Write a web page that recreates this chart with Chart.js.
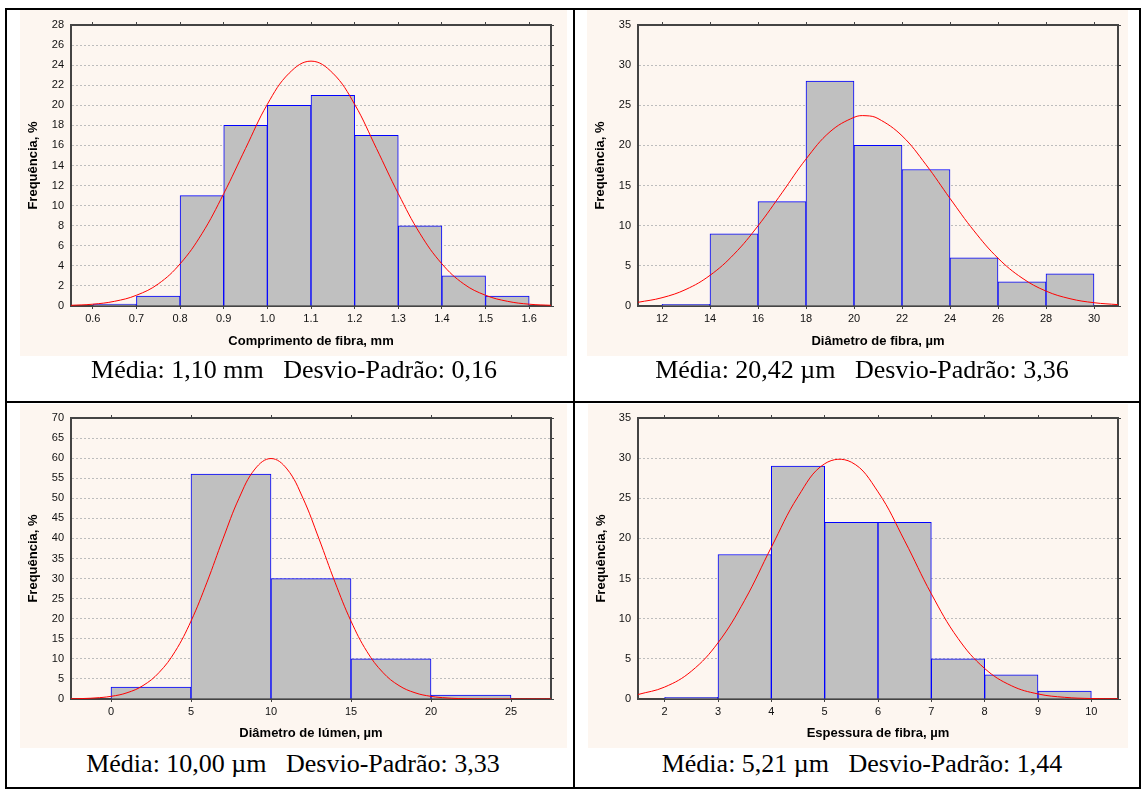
<!DOCTYPE html>
<html>
<head>
<meta charset="utf-8">
<script src="https://cdn.jsdelivr.net/npm/chart.js@4.4.0/dist/chart.umd.min.js"></script>
<style>
  body { margin: 0; background: #fff; width: 1141px; height: 790px; position: relative; overflow: hidden; }
  .frame { position: absolute; left: 5px; top: 8px; width: 1136px; height: 781px; box-sizing: border-box; border: 2px solid #000; }
  .vline { position: absolute; left: 573px; top: 8px; width: 2px; height: 781px; background: #000; }
  .hline { position: absolute; left: 5px; top: 401px; width: 1136px; height: 2px; background: #000; }
  .panel { position: absolute; background: #fdf6f0; }
  .panel canvas { display: block; }
  .caption { position: absolute; width: 600px; text-align: center; font-family: 'Liberation Serif', 'Times New Roman', serif;
             font-size: 26px; line-height: 1; color: #000; white-space: pre; }
</style>
</head>
<body>
<div class="frame"></div>
<div class="vline"></div>
<div class="hline"></div>

<div class="panel" style="left:20px;top:10px;width:547px;height:346px"><canvas id="chartCompr" width="547" height="346"></canvas></div>
<div class="panel" style="left:587px;top:10px;width:541px;height:346px"><canvas id="chartFibra" width="541" height="346"></canvas></div>
<div class="panel" style="left:20px;top:404px;width:547px;height:344px"><canvas id="chartLumen" width="547" height="344"></canvas></div>
<div class="panel" style="left:588px;top:404px;width:540px;height:344px"><canvas id="chartEsp" width="540" height="344"></canvas></div>

<div class="caption" style="left:-6px;top:357px">Média: 1,10 mm   Desvio-Padrão: 0,16</div>
<div class="caption" style="left:562px;top:357px">Média: 20,42 µm   Desvio-Padrão: 3,36</div>
<div class="caption" style="left:-7px;top:751px">Média: 10,00 µm   Desvio-Padrão: 3,33</div>
<div class="caption" style="left:562px;top:751px">Média: 5,21 µm   Desvio-Padrão: 1,44</div>

<script>
// Comprimento de fibra (mm)
const comprBins = [0.65, 0.75, 0.85, 0.95, 1.05, 1.15, 1.25, 1.35, 1.45, 1.55];
const comprFreq = [0.2, 1, 11, 18, 20, 21, 17, 8, 3, 1];
const comprTicks = [0.6, 0.7, 0.8, 0.9, 1.0, 1.1, 1.2, 1.3, 1.4, 1.5, 1.6];
const comprCurveX = [0.55, 0.6, 0.65, 0.7, 0.75, 0.8, 0.85, 0.9, 0.95, 1.0, 1.05, 1.1, 1.15, 1.2, 1.25, 1.3, 1.35, 1.4, 1.45, 1.5, 1.55, 1.6, 1.65];
const comprCurveY = [0.07, 0.18, 0.47, 1.07, 2.2, 4.2, 7.2, 11.2, 15.7, 20.1, 23.2, 24.4, 23.2, 20.1, 15.7, 11.2, 7.2, 4.2, 2.2, 1.07, 0.47, 0.18, 0.07];

// Diâmetro de fibra (µm)
const fibraBins = [13, 15, 17, 19, 21, 23, 25, 27, 29];
const fibraFreq = [0.2, 9, 13, 28, 20, 17, 6, 3, 4];
const fibraTicks = [12, 14, 16, 18, 20, 22, 24, 26, 28, 30];
const fibraCurveX = [11, 12, 13, 14, 15, 16, 17, 18, 19, 20, 20.5, 21, 22, 23, 24, 25, 26, 27, 28, 29, 30, 31];
const fibraCurveY = [0.46, 1.03, 2.07, 3.82, 6.45, 9.98, 14.1, 18.3, 21.7, 23.5, 23.7, 23.35, 21.2, 17.6, 13.4, 9.36, 5.96, 3.49, 1.86, 0.91, 0.41, 0.17];

// Diâmetro de lúmen (µm)
const lumenBins = [2.5, 7.5, 12.5, 17.5, 22.5];
const lumenFreq = [3, 56, 30, 10, 1];
const lumenTicks = [0, 5, 10, 15, 20, 25];
const lumenCurveX = [-2.5, -2, -1, 0, 1, 2, 3, 4, 5, 6, 7, 8, 9, 10, 11, 12, 13, 14, 15, 16, 17, 18, 19, 20, 21, 22, 23, 25, 27.5];
const lumenCurveY = [0.05, 0.09, 0.26, 0.66, 1.55, 3.34, 6.58, 11.8, 19.4, 29.1, 39.9, 50.0, 57.3, 59.9, 57.3, 50.0, 39.9, 29.1, 19.4, 11.8, 6.58, 3.34, 1.55, 0.66, 0.26, 0.09, 0.03, 0, 0];

// Espessura de fibra (µm)
const espBins = [2.5, 3.5, 4.5, 5.5, 6.5, 7.5, 8.5, 9.5];
const espFreq = [0.2, 18, 29, 22, 22, 5, 3, 1];
const espTicks = [2, 3, 4, 5, 6, 7, 8, 9, 10];
const espCurveX = [1.5, 2, 2.5, 3, 3.5, 4, 4.5, 5, 5.5, 6, 6.5, 7, 7.5, 8, 8.5, 9, 9.5, 10, 10.5];
const espCurveY = [0.56, 1.49, 3.46, 7.0, 12.3, 18.9, 25.2, 29.3, 29.5, 25.8, 19.7, 13.1, 7.55, 3.8, 1.66, 0.63, 0.21, 0.06, 0.02];

const SANS = "'Liberation Sans', Arial, sans-serif";
const AXIS = '#444';

function histChart(id, o) {
  const tickList = s => { s.ticks = o.xTicks.map(v => ({ value: v })); };
  return new Chart(document.getElementById(id), {
    type: 'bar',
    data: {
      datasets: [
        {
          type: 'line',
          data: o.curveX.map((x, i) => ({ x, y: o.curveY[i] })),
          borderColor: '#ff0000', borderWidth: 1, pointRadius: 0,
          tension: 0.4, order: 0,
        },
        {
          data: o.bins.map((x, i) => ({ x, y: o.freq[i] })),
          backgroundColor: '#c0c0c0', borderColor: '#0000ff', borderWidth: 1,
          barPercentage: 1, categoryPercentage: 1, order: 1,
        },
      ],
    },
    options: {
      responsive: false, animation: false,
      layout: { padding: 0 },
      plugins: { legend: { display: false }, tooltip: { enabled: false } },
      scales: {
        x: {
          type: 'linear', position: 'bottom', min: o.xMin, max: o.xMax, offset: false, z: 1,
          afterBuildTicks: tickList,
          afterFit: s => { s.height = o.bottomH; },
          ticks: { autoSkip: false, maxRotation: 0, padding: 3, color: '#111', font: { family: SANS, size: 11 },
                   callback: v => v.toFixed(o.dec) },
          grid: { drawOnChartArea: false, offset: false, tickLength: 3, tickColor: AXIS },
          border: { color: AXIS, width: 2 },
          title: { display: true, text: o.xTitle, color: '#000', font: { family: SANS, size: 13, weight: 'bold' },
                   padding: { top: 0, bottom: 7 } },
        },
        xTop: {
          type: 'linear', position: 'top', min: o.xMin, max: o.xMax, offset: false, z: 1,
          afterBuildTicks: tickList,
          afterFit: s => { s.height = o.topH; },
          ticks: { display: false },
          grid: { drawOnChartArea: false, offset: false, tickLength: 3, tickColor: AXIS },
          border: { color: AXIS, width: 2 },
        },
        y: {
          position: 'left', min: 0, max: o.yMax,
          afterFit: s => { s.width = o.leftW; },
          ticks: { stepSize: o.yStep, padding: 7, color: '#111', font: { family: SANS, size: 11 } },
          grid: { color: '#bdbdbd', lineWidth: 1, drawTicks: false },
          border: { color: AXIS, width: 2, dash: [2, 2] },
          title: { display: true, text: 'Frequência, %', color: '#000', font: { family: SANS, size: 13, weight: 'bold' },
                   padding: { top: 6, bottom: 0 } },
        },
        yRight: {
          position: 'right', min: 0, max: o.yMax, z: 1,
          afterFit: s => { s.width = o.rightW; },
          ticks: { display: false, stepSize: o.yStep },
          grid: { drawOnChartArea: false, tickLength: 3, tickColor: AXIS },
          border: { color: AXIS, width: 2 },
        },
      },
    },
  });
}

histChart('chartCompr', {
  bins: comprBins, freq: comprFreq, curveX: comprCurveX, curveY: comprCurveY, xTicks: comprTicks, dec: 1,
  xMin: 0.55, xMax: 1.65, yMax: 28, yStep: 2, xTitle: 'Comprimento de fibra, mm',
  leftW: 51, rightW: 16, topH: 15, bottomH: 50,
});
histChart('chartFibra', {
  bins: fibraBins, freq: fibraFreq, curveX: fibraCurveX, curveY: fibraCurveY, xTicks: fibraTicks, dec: 0,
  xMin: 11, xMax: 31, yMax: 35, yStep: 5, xTitle: 'Diâmetro de fibra, µm',
  leftW: 51, rightW: 10, topH: 15, bottomH: 50,
});
histChart('chartLumen', {
  bins: lumenBins, freq: lumenFreq, curveX: lumenCurveX, curveY: lumenCurveY, xTicks: lumenTicks, dec: 0,
  xMin: -2.5, xMax: 27.5, yMax: 70, yStep: 5, xTitle: 'Diâmetro de lúmen, µm',
  leftW: 51, rightW: 16, topH: 14, bottomH: 49,
});
histChart('chartEsp', {
  bins: espBins, freq: espFreq, curveX: espCurveX, curveY: espCurveY, xTicks: espTicks, dec: 0,
  xMin: 1.5, xMax: 10.5, yMax: 35, yStep: 5, xTitle: 'Espessura de fibra, µm',
  leftW: 50, rightW: 10, topH: 14, bottomH: 49,
});
</script>
</body>
</html>
